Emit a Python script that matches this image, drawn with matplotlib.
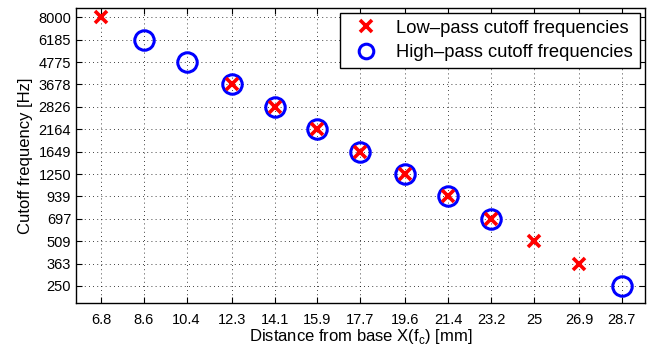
import numpy as np
import matplotlib.pyplot as plt

plt.rcParams['font.family'] = ['Liberation Sans', 'DejaVu Sans']

# Greenwood map (human): f = A * (10^(a*x) - k), x measured from apex
A_GW = 165.4
a_GW = 0.06
k_GW = 0.88

dist_ticks = [6.8, 8.6, 10.4, 12.3, 14.1, 15.9, 17.7, 19.6, 21.4, 23.2, 25, 26.9, 28.7]
freq_ticks = [250, 363, 509, 697, 939, 1250, 1649, 2164, 2826, 3678, 4775, 6185, 8000]

low_x = [6.8, 12.3, 14.1, 15.9, 17.7, 19.6, 21.4, 23.2, 25, 26.9]
low_f = [8000, 3678, 2826, 2164, 1649, 1250, 939, 697, 509, 363]

high_x = [8.6, 10.4, 12.3, 14.1, 15.9, 17.7, 19.6, 21.4, 23.2, 28.7]
high_f = [6185, 4775, 3678, 2826, 2164, 1649, 1250, 939, 697, 250]


def fwd(f):
    f = np.asarray(f, dtype=float)
    return np.log10(np.maximum(f / A_GW + k_GW, 1e-9)) / a_GW


def inv(x):
    x = np.asarray(x, dtype=float)
    return A_GW * (10 ** (a_GW * x) - k_GW)


fig = plt.figure(figsize=(6.56, 3.46), dpi=100)
ax = fig.add_axes([76 / 656, 1 - 303 / 346, (645 - 76) / 656, (303 - 8) / 346])

ax.plot(high_x, high_f, 'o', ms=14, mfc='none', mec='#0000ff', mew=2.2,
        label='High\u2013pass cutoff frequencies', zorder=3)
ax.plot(low_x, low_f, 'x', ms=9, mec='#ff0000', mew=2.6,
        label='Low\u2013pass cutoff frequencies', zorder=4)

ax.set_yscale('function', functions=(fwd, inv))
ax.set_xlim(5.75, 29.67)
top = inv(fwd(8000) + 9.3 / 12.27)
bot = inv(fwd(250) - 17 / 12.27)
ax.set_ylim(bot, top)

ax.set_xticks(dist_ticks)
ax.set_xticklabels([('%g' % d) for d in dist_ticks])
ax.set_yticks(freq_ticks)
ax.set_yticklabels([str(f) for f in freq_ticks])
ax.minorticks_off()

ax.tick_params(direction='in', top=True, right=True, labelsize=10.5, length=4, width=0.8)
ax.tick_params(axis='x', pad=7)
ax.grid(True, color='black', linestyle=(0, (1, 4)), linewidth=0.6)
for s in ax.spines.values():
    s.set_linewidth(1.0)

ax.set_xlabel(r'Distance from base X(f$_\mathregular{c}$) [mm]', fontsize=12, labelpad=0)
ax.set_ylabel('Cutoff frequency [Hz]', fontsize=12, labelpad=4)

h, l = ax.get_legend_handles_labels()
leg = ax.legend(h[::-1], l[::-1], loc='upper right', fontsize=13.2, fancybox=False,
                edgecolor='black', framealpha=1, borderpad=0.35, handletextpad=0.6,
                labelspacing=0.4, borderaxespad=0.3, handlelength=2.1)
leg.get_frame().set_linewidth(1.0)
leg.legend_handles[1].set_markersize(10.5)

fig.savefig('out.png', dpi=100)
